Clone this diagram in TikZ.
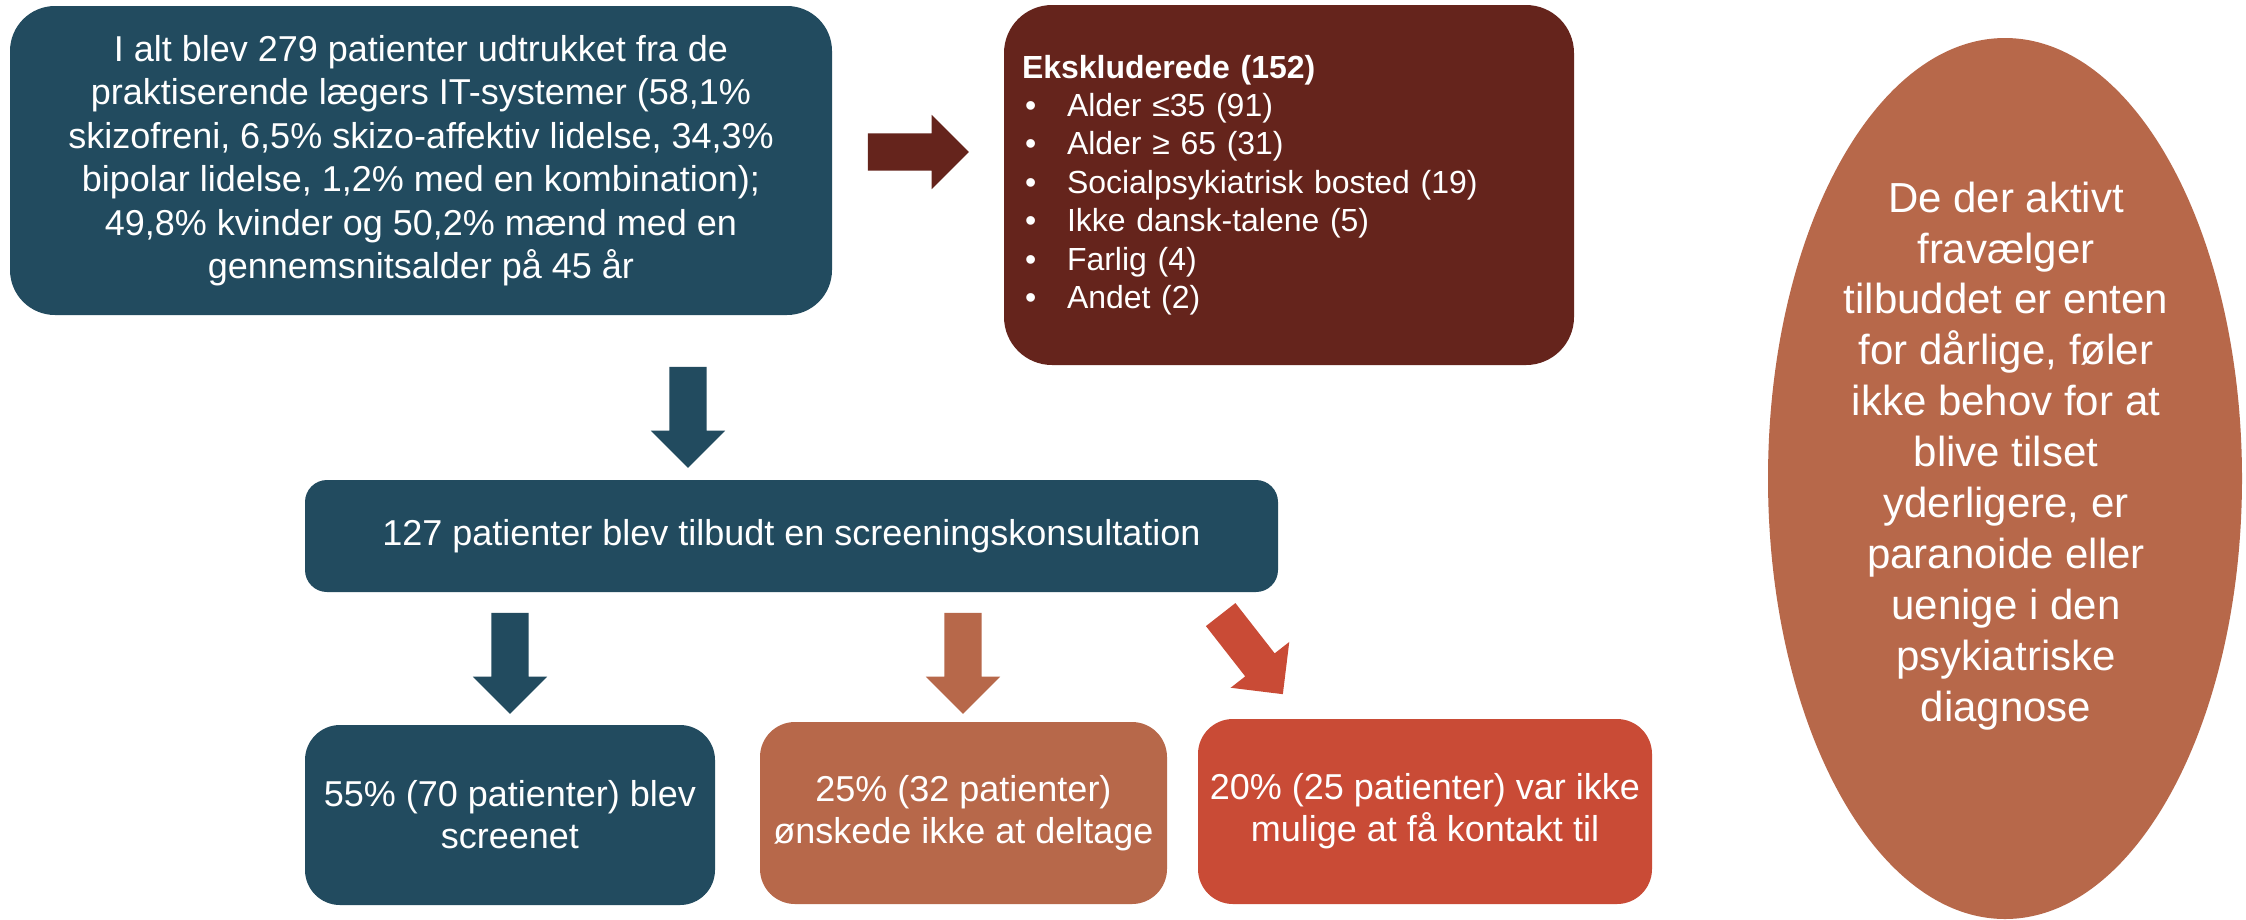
\documentclass[tikz,border=0pt]{standalone}
\usepackage{fontspec}
\setmainfont{Liberation Sans}
\usetikzlibrary{shapes.geometric, shapes.arrows}

\definecolor{petrol}{HTML}{224B5F}
\definecolor{oxblood}{HTML}{65241C}
\definecolor{copper}{HTML}{B7684A}
\definecolor{brick}{HTML}{C94B36}

\newcommand{\bodyfs}{\fontsize{10.24pt}{12.38pt}\selectfont}
\newcommand{\resfs}{\fontsize{10.24pt}{11.95pt}\selectfont}
\newcommand{\listfs}{\fontsize{9.1pt}{10.93pt}\selectfont}
\newcommand{\ovalfs}{\fontsize{11.95pt}{14.5pt}\selectfont}
\newcommand{\itembul}{\makebox[4.5mm][l]{\hspace{0.3mm}•}}

\begin{document}
\begin{tikzpicture}[x=0.1mm, y=-0.1mm,
  every node/.style={text=white, inner sep=0pt},
  box/.style={fill=#1, rounded corners=3.5mm, align=center},
  oval/.style={ellipse, fill=#1},
  blkarrow/.style={single arrow, fill=#1, inner sep=1.8mm, minimum height=10.1mm, minimum width=7.3mm, single arrow head extend=1.85mm}]
  \fill[white] (0,0) rectangle (2246,919);
  \useasboundingbox (0,0) rectangle (2246,919);
  \node[box=petrol, rounded corners=4.5mm, minimum width=82.2mm, minimum height=30.9mm, font=\bodyfs] (pool) at (421,160.5)
    {I alt blev 279 patienter udtrukket fra de\\praktiserende lægers IT-systemer (58,1\%\\skizofreni, 6,5\% skizo-affektiv lidelse, 34,3\%\\bipolar lidelse, 1,2\% med en kombination);\\49,8\% kvinder og 50,2\% mænd med en\\gennemsnitsalder på 45 år};
  \node[box=oxblood, rounded corners=4.8mm, minimum width=57mm, minimum height=36mm, align=left, text width=53.4mm, font=\listfs] (excl) at (1289,185)
    {{\bfseries Ekskluderede (152)}\\
     \itembul Alder ≤35 (91)\\
     \itembul Alder ≥ 65 (31)\\
     \itembul Socialpsykiatrisk bosted (19)\\
     \itembul Ikke dansk-talene (5)\\
     \itembul Farlig (4)\\
     \itembul Andet (2)};
  \node[box=petrol, rounded corners=2.2mm, minimum width=97.3mm, minimum height=11.2mm, font=\bodyfs] (offer) at (791.5,536)
    {127 patienter blev tilbudt en screeningskonsultation};
  \node[box=petrol, minimum width=41mm, minimum height=18mm, font=\resfs] (screen) at (510,815)
    {55\% (70 patienter) blev\\screenet};
  \node[box=copper, minimum width=40.7mm, minimum height=18.2mm, font=\resfs] (decl) at (963.5,813)
    {25\% (32 patienter)\\ønskede ikke at deltage};
  \node[box=brick, minimum width=45.4mm, minimum height=18.5mm, font=\resfs] (lost) at (1425,811.5)
    {20\% (25 patienter) var ikke\\mulige at få kontakt til};
  \node[oval=copper, minimum width=47.4mm, minimum height=88.1mm] (why) at (2005,478.5) {};
  \node[align=center, font=\ovalfs] (whytxt) at (2006,456)
    {De der aktivt\\fravælger\\tilbuddet er enten\\for dårlige, føler\\ikke behov for at\\blive tilset\\yderligere, er\\paranoide eller\\uenige i den\\psykiatriske\\diagnose};
  % block arrows
  \node[blkarrow=oxblood] (toexcl) at (909,152) {};
  \node[blkarrow=petrol, rotate=-90] (tooffer) at (688,408) {};
  \node[blkarrow=petrol, rotate=-90] (toscreen) at (510,654) {};
  \node[blkarrow=copper, rotate=-90] (todecl) at (963,654) {};
  \node[blkarrow=brick, rotate=-52] (tolost) at (1246,647) {};
\end{tikzpicture}
\end{document}
